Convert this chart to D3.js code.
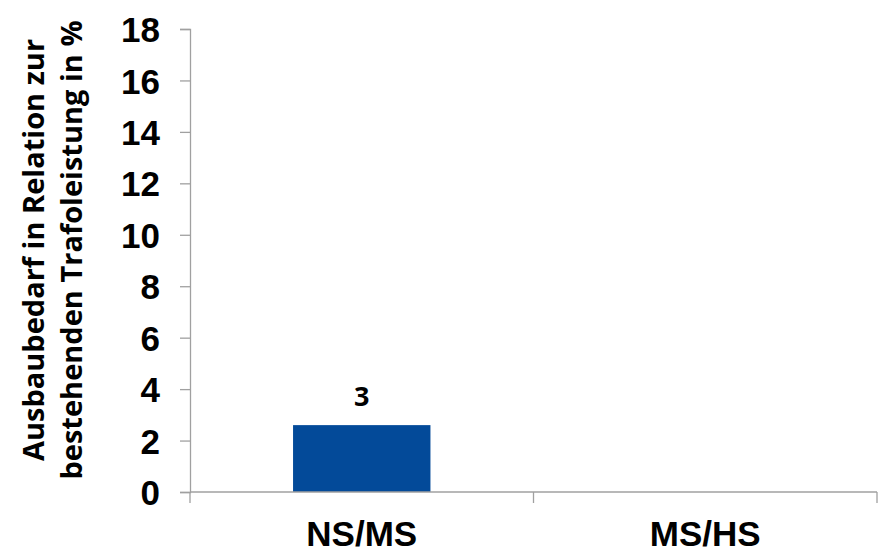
<!DOCTYPE html>
<html>
<head>
<meta charset="utf-8">
<script src="https://cdn.jsdelivr.net/npm/d3@7"></script>
<style>
  html, body { margin: 0; padding: 0; background: #fff; }
  svg { display: block; }
</style>
</head>
<body>
<svg id="chart" width="882" height="554"></svg>
<script>
// Ausbaubedarf je Umspannebene
const categories = ["NS/MS", "MS/HS"];
const values = [2.6, 0];
const showLabel = [true, false];
const yTicks = [0, 2, 4, 6, 8, 10, 12, 14, 16, 18];
const titleLines = ["Ausbaubedarf in Relation zur", "bestehenden Trafoleistung in %"];

const svg = d3.select("#chart");
const margin = { left: 190, right: 5, top: 29, bottom: 62 };
const W = 882, H = 554;

const x = d3.scaleBand().domain(categories).range([margin.left, W - margin.right]).padding(0);
const y = d3.scaleLinear().domain([0, 18]).range([H - margin.bottom, margin.top]);

const axisColor = "#a0a0a0";

// y axis
const yAxis = svg.append("g")
  .attr("transform", `translate(${margin.left},0)`)
  .call(d3.axisLeft(y).tickValues(yTicks).tickSize(10).tickPadding(20).tickFormat(d3.format("d")));
yAxis.select(".domain").attr("stroke", axisColor).attr("stroke-width", 1.3);
yAxis.selectAll(".tick line").attr("stroke", axisColor).attr("stroke-width", 1.3);
yAxis.selectAll(".tick text")
  .attr("fill", "#000")
  .style("font-family", "'Liberation Sans', Arial, sans-serif")
  .style("font-weight", "bold")
  .style("font-size", "35px")
  .attr("dy", "0.36em");

// bars
const barW = x.bandwidth() * 0.4;
svg.append("g").selectAll("rect")
  .data(categories.map((c, i) => ({ c, v: values[i], show: showLabel[i] })))
  .join("rect")
  .attr("x", d => x(d.c) + (x.bandwidth() - barW) / 2)
  .attr("y", d => y(d.v))
  .attr("width", barW)
  .attr("height", d => y(0) - y(d.v))
  .attr("fill", "#034a99");

// value labels
svg.append("g").selectAll("text")
  .data(categories.map((c, i) => ({ c, v: values[i], show: showLabel[i] })).filter(d => d.show))
  .join("text")
  .attr("x", d => x(d.c) + x.bandwidth() / 2)
  .attr("y", d => y(d.v) - 19)
  .attr("text-anchor", "middle")
  .style("font-family", "'Open Sans', 'DejaVu Sans', sans-serif")
  .style("font-weight", "bold")
  .style("font-size", "27px")
  .text(d => d3.format(".0f")(d.v));

// x axis
const xAxisG = svg.append("g").attr("transform", `translate(0,${y(0)})`);
xAxisG.append("line")
  .attr("x1", x.range()[0]).attr("x2", x.range()[1])
  .attr("stroke", axisColor).attr("stroke-width", 1.3);
const bounds = categories.map(c => x(c)).concat([x.range()[1]]);
xAxisG.selectAll("line.tk").data(bounds).join("line")
  .attr("class", "tk")
  .attr("x1", d => d).attr("x2", d => d)
  .attr("y1", 0).attr("y2", 11)
  .attr("stroke", axisColor).attr("stroke-width", 1.3);
xAxisG.selectAll("text").data(categories).join("text")
  .attr("x", d => x(d) + x.bandwidth() / 2)
  .attr("y", 54)
  .attr("text-anchor", "middle")
  .style("font-family", "'Liberation Sans', Arial, sans-serif")
  .style("font-weight", "bold")
  .style("font-size", "35px")
  .text(d => d);

// y title
const title = svg.append("text")
  .attr("transform", "translate(0,250) rotate(-90)")
  .attr("text-anchor", "middle")
  .style("font-family", "'Open Sans', 'DejaVu Sans', sans-serif")
  .style("font-weight", "bold")
  .style("font-size", "29px");
title.selectAll("tspan").data(titleLines).join("tspan")
  .attr("x", 0)
  .attr("y", (d, i) => 44 + i * 38)
  .text(d => d);
</script>
</body>
</html>
